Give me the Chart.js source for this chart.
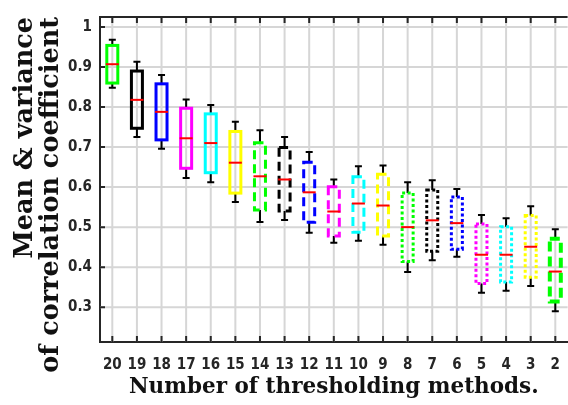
<!DOCTYPE html>
<html>
<head>
<meta charset="utf-8">
<script src="https://cdn.jsdelivr.net/npm/chart.js@4.4.1/dist/chart.umd.min.js"></script>
<style>
  html, body { margin: 0; padding: 0; background: #fff; overflow: hidden; }
  #wrap { width: 568px; height: 405px; overflow: hidden; }
</style>
</head>
<body>
<div id="wrap"><canvas id="box" width="574" height="405"></canvas></div>
<script>
/* ── data ── */
const methods     = ['20', '19', '18', '17', '16', '15', '14', '13', '12', '11', '10', '9', '8', '7', '6', '5', '4', '3', '2'];
const whiskerHigh = [0.968, 0.913, 0.880, 0.819, 0.805, 0.763, 0.742, 0.725, 0.688, 0.619, 0.652, 0.654, 0.612, 0.617, 0.595, 0.530, 0.522, 0.552, 0.495];
const upperQ      = [0.954, 0.890, 0.858, 0.797, 0.783, 0.739, 0.711, 0.699, 0.662, 0.601, 0.626, 0.632, 0.585, 0.593, 0.575, 0.508, 0.501, 0.529, 0.471];
const medians     = [0.907, 0.818, 0.788, 0.722, 0.710, 0.661, 0.627, 0.619, 0.587, 0.539, 0.559, 0.554, 0.500, 0.517, 0.510, 0.431, 0.431, 0.451, 0.389];
const lowerQ      = [0.860, 0.747, 0.718, 0.647, 0.636, 0.585, 0.543, 0.540, 0.512, 0.478, 0.487, 0.478, 0.414, 0.440, 0.445, 0.359, 0.363, 0.375, 0.314];
const whiskerLow  = [0.848, 0.725, 0.696, 0.623, 0.612, 0.563, 0.513, 0.518, 0.486, 0.461, 0.466, 0.456, 0.388, 0.417, 0.426, 0.336, 0.341, 0.353, 0.290];
const boxColors   = ['#00ff00', '#000000', '#0000ff', '#ff00ff', '#00ffff', '#ffff00',
                     '#00ff00', '#000000', '#0000ff', '#ff00ff', '#00ffff', '#ffff00',
                     '#00ff00', '#000000', '#0000ff', '#ff00ff', '#00ffff', '#ffff00', '#00ff00'];
const boxStyles   = ['solid', 'solid', 'solid', 'solid', 'solid', 'solid',
                     'dashed', 'dashed', 'dashed', 'dashed', 'dashed', 'dashed',
                     'dotted', 'dotted', 'dotted', 'dotted', 'dotted', 'dotted', 'bold-dash'];
const yTickVals   = [0.3, 0.4, 0.5, 0.6, 0.7, 0.8, 0.9, 1];

const TICK_FONT  = '"DejaVu Sans Condensed", "Liberation Sans Narrow", sans-serif';
const TITLE_FONT = '"DejaVu Serif", "Liberation Serif", serif';
const AXIS = '#262626';
const GRID = '#d6d6d6';

const DASHES = { solid: [], dashed: [9, 5], dotted: [3, 2.5], 'bold-dash': [10, 5] };

/* ── grid lines at every tick, under the boxes ── */
const gridLines = {
    id: 'gridLines',
    beforeDatasetsDraw(chart) {
        const { ctx, chartArea: a, scales: { x, y } } = chart;
        ctx.save();
        ctx.strokeStyle = GRID;
        ctx.lineWidth = 2;
        ctx.beginPath();
        x.ticks.forEach((_, i) => {
            const px = x.getPixelForTick(i);
            ctx.moveTo(px, a.top); ctx.lineTo(px, a.bottom);
        });
        y.ticks.forEach((_, i) => {
            const py = y.getPixelForTick(i);
            ctx.moveTo(a.left, py); ctx.lineTo(a.right, py);
        });
        ctx.stroke();
        ctx.restore();
    }
};

/* ── boxes, whiskers and medians, placed from the floating bars ── */
const boxPlot = {
    id: 'boxPlot',
    afterDatasetsDraw(chart) {
        const { ctx, scales: { y } } = chart;
        chart.getDatasetMeta(0).data.forEach((bar, i) => {
            const x = bar.x, half = bar.width / 2;
            const top = Math.min(bar.y, bar.base), bottom = Math.max(bar.y, bar.base);
            const wt = y.getPixelForValue(whiskerHigh[i]);
            const wb = y.getPixelForValue(whiskerLow[i]);
            ctx.save();
            // whiskers
            ctx.strokeStyle = '#000';
            ctx.lineWidth = 2;
            ctx.beginPath();
            ctx.moveTo(x, top); ctx.lineTo(x, wt);
            ctx.moveTo(x - 3.5, wt); ctx.lineTo(x + 3.5, wt);
            ctx.moveTo(x, bottom); ctx.lineTo(x, wb);
            ctx.moveTo(x - 3.5, wb); ctx.lineTo(x + 3.5, wb);
            ctx.stroke();
            // box outline
            ctx.strokeStyle = boxColors[i];
            ctx.lineWidth = boxStyles[i] === 'bold-dash' ? 4 : 3;
            ctx.setLineDash(DASHES[boxStyles[i]]);
            ctx.strokeRect(x - half, top, half * 2, bottom - top);
            // median
            ctx.setLineDash([]);
            ctx.strokeStyle = '#ff0000';
            ctx.lineWidth = 2;
            const m = y.getPixelForValue(medians[i]);
            ctx.beginPath();
            ctx.moveTo(x - half - 1, m); ctx.lineTo(x + half + 1, m);
            ctx.stroke();
            ctx.restore();
        });
    }
};

/* ── top border and inward tick marks (MATLAB look) ── */
const frame = {
    id: 'frame',
    afterDraw(chart) {
        const { ctx, chartArea: a, scales: { x, y } } = chart;
        ctx.save();
        ctx.strokeStyle = AXIS;
        ctx.lineWidth = 2;
        ctx.beginPath();
        ctx.moveTo(a.left - 1, a.top); ctx.lineTo(a.right, a.top);
        x.ticks.forEach((_, i) => {
            const px = x.getPixelForTick(i);
            ctx.moveTo(px, a.bottom); ctx.lineTo(px, a.bottom - 6);
            ctx.moveTo(px, a.top); ctx.lineTo(px, a.top + 6);
        });
        y.ticks.forEach((_, i) => {
            const py = y.getPixelForTick(i);
            ctx.moveTo(a.left, py); ctx.lineTo(a.left + 5, py);
        });
        ctx.stroke();
        ctx.restore();
    }
};

new Chart(document.getElementById('box'), {
    type: 'bar',
    data: {
        labels: methods,
        datasets: [{
            data: methods.map((_, i) => [lowerQ[i], upperQ[i]]),
            backgroundColor: 'rgba(0,0,0,0)',
            borderWidth: 0,
            barThickness: 11
        }]
    },
    options: {
        responsive: false,
        animation: false,
        layout: { padding: { top: 10, left: 0, right: 0, bottom: 0 } },
        plugins: { legend: { display: false }, tooltip: { enabled: false } },
        scales: {
            x: {
                grid: { display: true, drawOnChartArea: false, drawTicks: false },
                border: { display: true, color: AXIS, width: 2 },
                ticks: { color: AXIS, autoSkip: false, maxRotation: 0, padding: 14,
                         font: { family: TICK_FONT, size: 15, weight: 'bold' } },
                title: { display: true, text: 'Number of thresholding methods.', color: '#111',
                         font: { family: TITLE_FONT, size: 21.5, weight: 'bold', lineHeight: 1.2 },
                         padding: { top: 0, bottom: 5 } },
                afterFit: axis => { axis.height = 63; }
            },
            y: {
                min: 0.213,
                max: 1.025,
                afterBuildTicks: axis => { axis.ticks = yTickVals.map(v => ({ value: v })); },
                grid: { display: true, drawOnChartArea: false, drawTicks: false },
                border: { display: true, color: AXIS, width: 2 },
                ticks: { color: AXIS, padding: 8,
                         font: { family: TICK_FONT, size: 15, weight: 'bold' },
                         callback: v => v === 1 ? '1' : v.toFixed(1) },
                title: { display: true, align: 'end', color: '#111',
                         text: ['Mean & variance', 'of correlation coefficient'],
                         font: { family: TITLE_FONT, size: 25.5, weight: 'bold', lineHeight: 1 },
                         padding: { top: 13, bottom: 0 } },
                afterFit: axis => { axis.width = 100; }
            }
        }
    },
    plugins: [gridLines, boxPlot, frame]
});
</script>
</body>
</html>
